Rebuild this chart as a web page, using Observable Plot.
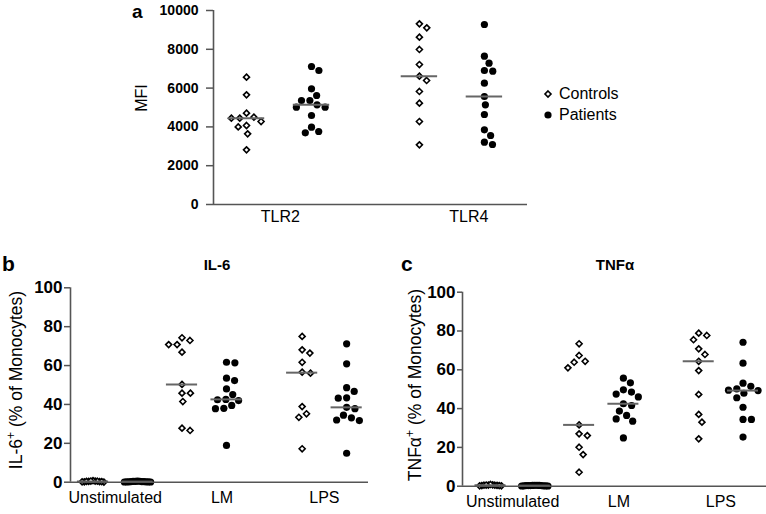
<!DOCTYPE html>
<html><head><meta charset="utf-8">
<script src="https://cdn.jsdelivr.net/npm/d3@7"></script>
<script src="https://cdn.jsdelivr.net/npm/@observablehq/plot@0.6"></script>
<style>
body{margin:0;background:#fff;}
#root{position:relative;width:766px;height:514px;overflow:hidden;font-family:"Liberation Sans",Arial,sans-serif;background:#fff;}
.panel{position:absolute;}
#overlay{position:absolute;left:0;top:0;pointer-events:none;}
</style></head><body><div id="root"></div>
<script>
// ---------- data ----------
const tlrCategories = ["TLR2", "TLR4"];
const seriesNames = ["Controls", "Patients"];
const tlr2Controls = [6564, 5653, 4708, 4502, 4450, 4450, 4278, 4072, 4000, 3643, 2818];
const tlr2Patients = [7113, 6907, 5962, 5619, 5361, 5361, 5137, 5017, 5017, 4588, 3986, 3763, 3694];
const tlr4Controls = [9313, 9106, 8625, 7990, 7216, 6615, 6392, 5825, 5223, 4278, 3076];
const tlr4Patients = [9278, 7646, 7285, 6907, 6873, 6254, 5567, 5137, 4639, 3849, 3557, 3213, 3093];
const mfiTicks = [0, 2000, 4000, 6000, 8000, 10000];

const stimCategories = ["Unstimulated", "LM", "LPS"];
const il6UnstimControls = [0.2, 0.4, 0.1, 0.6, 0.3, 0.5, 0.2, 0.8, 0.4, 0.3, 0.6];
const il6UnstimPatients = [0.1, 0.3, 0.2, 0.4, 0.2, 0.5, 0.3, 0.1, 0.4, 0.2, 0.3, 0.6, 0.2];
const il6LMControls = [74.3, 72.9, 70.8, 70.8, 66.9, 50.3, 45.8, 45.8, 41.5, 27.8, 26.6];
const il6LMPatients = [61.7, 61.4, 53.5, 52.3, 48, 45.1, 42.6, 42.4, 42, 39.5, 38, 37.8, 18.9];
const il6LPSControls = [75, 68.1, 66.4, 61.7, 56.6, 56.1, 38.9, 35.2, 33.4, 17.2];
const il6LPSPatients = [71.2, 60.9, 48.6, 46.7, 43.4, 43.2, 38.5, 37.8, 34.5, 33.1, 32, 31.7, 14.9];

const tnfUnstimControls = [0.3, 0.5, 0.2, 0.7, 0.4, 0.6, 0.2, 0.9, 0.5, 0.3, 0.6];
const tnfUnstimPatients = [0.2, 0.3, 0.1, 0.4, 0.3, 0.5, 0.2, 0.1, 0.4, 0.3, 0.2, 0.5, 0.3];
const tnfLMControls = [73.4, 67.4, 64.4, 63.9, 61, 31.6, 27, 26.1, 20.1, 16.3, 7.2];
const tnfLMPatients = [55.7, 53.3, 49.7, 48.5, 47.5, 46, 42.5, 41.6, 38.7, 36.5, 34.7, 33.5, 24.9];
const tnfLPSControls = [78.9, 77.7, 75.5, 70.8, 67.9, 64.4, 59.6, 47.3, 37, 33, 24.4];
const tnfLPSPatients = [74.2, 63.4, 53.1, 51.5, 50.2, 49.5, 49.3, 47.9, 45.6, 40.7, 34.4, 34.4, 25.3];
const pctTicks = [0, 20, 40, 60, 80, 100];

// ---------- layout ----------
const aSlots = [1, 2, 3.66, 4.66];
const aLabelSlots = [1.52, 4.42];
const bcSlots = [1, 2, 3, 4, 5.7, 6.7];
const bcLabelSlots = [1.5, 3.9, 6.2];
const FONT = '"Liberation Sans", Arial, sans-serif';

function swarmOffsets(values, yScale, d) {
  const placed = [];
  const offs = new Array(values.length);
  const order = d3.range(values.length).sort((a, b) => values[b] - values[a]);
  for (const i of order) {
    const y = yScale.apply(values[i]);
    const cands = [0];
    for (const p of placed) {
      const dy = y - p.y;
      if (Math.abs(dy) < d) {
        const dx = Math.sqrt(d * d - dy * dy);
        cands.push(p.x + dx, p.x - dx);
      }
    }
    cands.sort((a, b) => Math.abs(a) - Math.abs(b));
    for (const c of cands) {
      if (placed.every(p => (p.x - c) ** 2 + (p.y - y) ** 2 >= d * d - 1e-6)) {
        offs[i] = c; placed.push({x: c, y}); break;
      }
    }
  }
  return offs;
}

function panel(cfg) {
  const {groups, yDomain, yTicks, width, height, mt, mb, ml, mr, xDomain,
         labelSlots, labels, tickFont, xFont, halfLine, tickSize, tickPadding, xPad} = cfg;
  const yScale = Plot.scale({y: {domain: yDomain, range: [height - mb, mt]}});
  const xScale = Plot.scale({x: {domain: xDomain, range: [ml, width - mr]}});
  const ppu = (xScale.apply(xDomain[1]) - xScale.apply(xDomain[0])) / (xDomain[1] - xDomain[0]);
  const rows = [], meds = [];
  for (const g of groups) {
    const tight = d3.max(g.values) < 2;
    const offs = swarmOffsets(g.values, yScale, tight ? 2.2 : 8.4);
    g.values.forEach((v, i) => rows.push({x: g.slot + offs[i] / ppu, y: v, type: g.type}));
    meds.push({slot: g.slot, y: d3.median(g.values)});
  }
  const labelMap = new Map(labelSlots.map((s, i) => [s, labels[i]]));
  return Plot.plot({
    width, height, marginTop: mt, marginBottom: mb, marginLeft: ml, marginRight: mr,
    style: {fontFamily: FONT, color: "black", background: "transparent", overflow: "visible"},
    x: {domain: xDomain},
    y: {domain: yDomain},
    marks: [
      Plot.dot(rows.filter(d => d.type === "Controls"), {x: "x", y: "y", symbol: "diamond2", r: 2.7, fill: "white", stroke: "black", strokeWidth: 1.6}),
      Plot.dot(rows.filter(d => d.type === "Patients"), {x: "x", y: "y", r: 3.6, fill: "black"}),
      Plot.ruleY(meds, {y: "y", x1: d => d.slot - halfLine, x2: d => d.slot + halfLine, stroke: "#666", strokeWidth: 2}),
      Plot.ruleY([yDomain[0]], {stroke: "#555", strokeWidth: 1.6}),
      Plot.ruleX([xDomain[0]], {stroke: "#555", strokeWidth: 1.6}),
      Plot.axisY(yTicks, {tickSize, tickPadding, tickFormat: d3.format("d"), fontSize: tickFont, fontWeight: "bold", stroke: "#555", strokeWidth: 1.5, label: null}),
      Plot.axisX(labelSlots, {tickSize: 0, tickPadding: xPad, tickFormat: d => labelMap.get(d), fontSize: xFont, label: null})
    ]
  });
}

const root = document.getElementById("root");
function place(svg, left, top) {
  svg.classList.add("panel");
  svg.style.left = left + "px"; svg.style.top = top + "px";
  root.appendChild(svg);
}

place(panel({
  groups: [
    {values: tlr2Controls, slot: aSlots[0], type: "Controls"},
    {values: tlr2Patients, slot: aSlots[1], type: "Patients"},
    {values: tlr4Controls, slot: aSlots[2], type: "Controls"},
    {values: tlr4Patients, slot: aSlots[3], type: "Patients"}
  ],
  yDomain: [0, 10000], yTicks: mfiTicks, width: 540, height: 235, mt: 10, mb: 31, ml: 213, mr: 13,
  xDomain: [0.4923, 5.323], labelSlots: aLabelSlots, labels: tlrCategories,
  tickFont: 14, xFont: 16, halfLine: 0.28, tickSize: 7, tickPadding: 8, xPad: 6
}), 0, 0);

place(panel({
  groups: [
    {values: il6UnstimControls, slot: bcSlots[0], type: "Controls"},
    {values: il6UnstimPatients, slot: bcSlots[1], type: "Patients"},
    {values: il6LMControls, slot: bcSlots[2], type: "Controls"},
    {values: il6LMPatients, slot: bcSlots[3], type: "Patients"},
    {values: il6LPSControls, slot: bcSlots[4], type: "Controls"},
    {values: il6LPSPatients, slot: bcSlots[5], type: "Patients"}
  ],
  yDomain: [0, 100], yTicks: pctTicks, width: 380, height: 259, mt: 32.3, mb: 32.3, ml: 70, mr: 12,
  xDomain: [0.4944, 7.191], labelSlots: bcLabelSlots, labels: stimCategories,
  tickFont: 17, xFont: 16, halfLine: 0.35, tickSize: 6, tickPadding: 2, xPad: 9
}), 0, 255);

place(panel({
  groups: [
    {values: tnfUnstimControls, slot: bcSlots[0], type: "Controls"},
    {values: tnfUnstimPatients, slot: bcSlots[1], type: "Patients"},
    {values: tnfLMControls, slot: bcSlots[2], type: "Controls"},
    {values: tnfLMPatients, slot: bcSlots[3], type: "Patients"},
    {values: tnfLPSControls, slot: bcSlots[4], type: "Controls"},
    {values: tnfLPSPatients, slot: bcSlots[5], type: "Patients"}
  ],
  yDomain: [0, 100], yTicks: pctTicks, width: 386, height: 259, mt: 36.7, mb: 28.3, ml: 82, mr: 0,
  xDomain: [0.368, 7.23], labelSlots: bcLabelSlots, labels: stimCategories,
  tickFont: 17, xFont: 16, halfLine: 0.35, tickSize: 5, tickPadding: 2, xPad: 9
}), 380, 255);

// ---------- annotations ----------
const ov = d3.select(root).append("svg").attr("id", "overlay").attr("width", 766).attr("height", 514)
  .style("font-family", FONT);
function txt(x, y, s, opts = {}) {
  const t = ov.append("text").attr("x", x).attr("y", y).text(s)
    .attr("font-size", opts.size || 16).attr("font-weight", opts.weight || "normal")
    .attr("text-anchor", opts.anchor || "start").attr("fill", "black");
  if (opts.rotate) t.attr("transform", `rotate(-90 ${x} ${y})`);
  return t;
}
txt(132, 17.5, "a", {size: 19, weight: "bold"});
txt(2, 271, "b", {size: 21, weight: "bold"});
txt(401, 271, "c", {size: 21, weight: "bold"});
txt(217, 270, "IL-6", {size: 15, weight: "bold", anchor: "middle"});
txt(615, 270, "TNFα", {size: 15, weight: "bold", anchor: "middle"});
txt(147, 98, "MFI", {size: 16, anchor: "middle", rotate: true});
function supLabel(x, y, main, size) {
  const t = ov.append("text").attr("x", x).attr("y", y).attr("font-size", size)
    .attr("text-anchor", "middle").attr("transform", `rotate(-90 ${x} ${y})`);
  t.append("tspan").text(main);
  t.append("tspan").attr("dy", -size * 0.38).attr("font-size", size * 0.7).text("+");
  t.append("tspan").attr("dy", size * 0.38).text(" (% of Monocytes)");
}
supLabel(22, 380, "IL-6", 17.5);
supLabel(421, 385, "TNFα", 17.5);
// legend
ov.append("path").attr("d", d3.symbol(d3.symbolDiamond2, 2.7 * 2.7 * Math.PI)())
  .attr("transform", "translate(548,94)").attr("fill", "white").attr("stroke", "black").attr("stroke-width", 1.6);
ov.append("circle").attr("cx", 548).attr("cy", 115).attr("r", 3.6).attr("fill", "black");
txt(559, 99, seriesNames[0], {size: 16});
txt(559, 120, seriesNames[1], {size: 16});
</script></body></html>
